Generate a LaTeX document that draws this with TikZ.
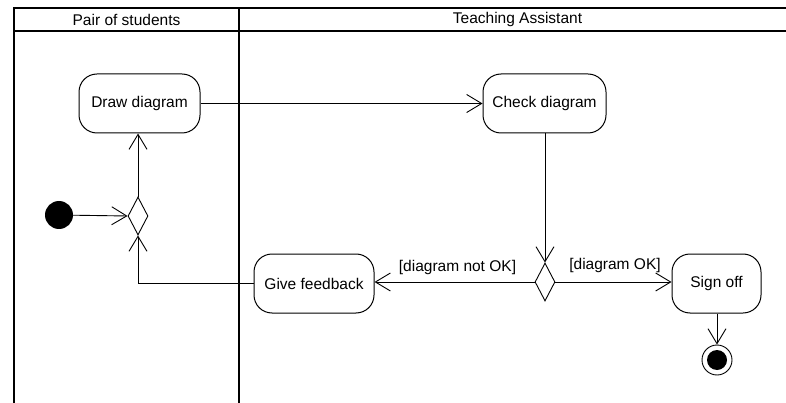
\documentclass[tikz,border=0pt]{standalone}
\usepackage{fontspec}
\setmainfont{Liberation Sans}
\usetikzlibrary{arrows.meta,shapes.geometric}

\begin{document}
\begin{tikzpicture}[x=1pt,y=-1pt,
  lane/.style={line width=2pt, line cap=rect},
  lanetitle/.style={font=\fontsize{15.5}{17}\selectfont, inner sep=0pt, anchor=center},
  action/.style={draw, line width=1pt, rectangle, rounded corners=18pt,
    minimum height=59pt, inner sep=2pt, font=\fontsize{15.5}{17}\selectfont},
  branch/.style={draw, line width=0.9pt, diamond, aspect=0.53, inner sep=0pt,
    minimum width=20pt, minimum height=38pt},
  startnode/.style={circle, fill=black, minimum size=28pt, inner sep=0pt},
  endnode/.style={circle, draw, line width=0.9pt, minimum size=30pt, inner sep=0pt,
    path picture={\fill (path picture bounding box.center) circle (10pt);}},
  flow/.style={line width=0.9pt, -{Straight Barb[length=15pt,width=18pt,line width=0.9pt]}},
  guard/.style={font=\fontsize{15.5}{17}\selectfont, inner sep=0pt}
]
\useasboundingbox (0,0) rectangle (786,403);

% swimlane frame
\draw[lane] (14,403) -- (14,8) -- (800,8);
\draw[lane] (14,31) -- (800,31);
\draw[lane] (239,8) -- (239,403);
\node[lanetitle] (laneA) at (126.5,19.5) {Pair of students};
\node[lanetitle] (laneB) at (517.5,19.5) {Teaching Assistant};

% activity nodes
\node[startnode] (start) at (59,215) {};
\node[branch] (merge) at (138,216) {};
\node[action, minimum width=121pt] (draw) at (139.5,103.5) {Draw diagram};
\node[action, minimum width=123pt] (check) at (544.5,103.5) {Check diagram};
\node[branch] (decide) at (545,282) {};
\node[action, minimum width=120pt] (feedback) at (314,283.5) {Give feedback};
\node[action, minimum width=89pt] (signoff) at (716.5,283.5) {Sign off};
\node[endnode] (end) at (717,360) {};

% guards
\node[guard] (notok) at (457.5,267) {[diagram not OK]};
\node[guard] (ok) at (615,265) {[diagram OK]};

% flows
\draw[flow] (start) -- (merge.west);
\draw[flow] (merge.north) -- (merge.north |- draw.south);
\draw[flow] (draw.east) -- (check.west);
\draw[flow] (check.south -| decide.north) -- (decide.north);
\draw[flow] (decide.west) -- (decide.west -| feedback.east);
\draw[flow] (decide.east) -- (decide.east -| signoff.west);
\draw[flow] (feedback.west) -| (merge.south);
\draw[flow] (signoff.south -| end.north) -- (end.north);
\end{tikzpicture}
\end{document}
